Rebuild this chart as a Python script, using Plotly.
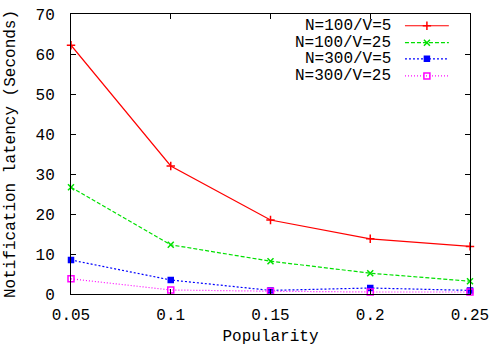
import plotly.graph_objects as go

popularity = [0.05, 0.1, 0.15, 0.2, 0.25]
n100_v5 = [62.2, 32.0, 18.5, 13.8, 11.9]
n100_v25 = [26.7, 12.3, 8.2, 5.2, 3.2]
n300_v5 = [8.5, 3.5, 0.9, 1.5, 0.9]
n300_v25 = [3.8, 1.0, 0.7, 0.5, 0.5]
series_names = ["N=100/V=5", "N=100/V=25", "N=300/V=5", "N=300/V=25"]
x_ticks = [0.05, 0.1, 0.15, 0.2, 0.25]
x_tick_labels = ["0.05", "0.1", "0.15", "0.2", "0.25"]
y_ticks = [0, 10, 20, 30, 40, 50, 60, 70]

FONT = "Liberation Mono"
FS = 16
styles = [
    dict(color="#ff0000", dash="solid", symbol="cross-thin-open", size=6),
    dict(color="#00e000", dash="4px,2px", symbol="x-thin-open", size=6),
    dict(color="#0000ff", dash="2px,2px", symbol="square", size=5),
    dict(color="#ff00ff", dash="1px,2px", symbol="square-open", size=6),
]
data = [n100_v5, n100_v25, n300_v5, n300_v25]

fig = go.Figure()
for name, ys, st in zip(series_names, data, styles):
    fig.add_trace(go.Scatter(
        x=popularity, y=ys, mode="lines+markers", name=name,
        line=dict(color=st["color"], width=1.2, dash=st["dash"]),
        marker=dict(symbol=st["symbol"], size=st["size"], color=st["color"],
                    line=dict(color=st["color"], width=1.5)),
        showlegend=False, cliponaxis=False,
    ))

# manual legend (text right-aligned, sample to the right)
leg_rows = [0.958, 0.8975, 0.840, 0.779]
for name, st, ry in zip(series_names, styles, leg_rows):
    fig.add_trace(go.Scatter(
        x=[0.837, 0.892, 0.947], y=[ry, ry, ry], xaxis="x2", yaxis="y2",
        mode="lines", line=dict(color=st["color"], width=1.2, dash=st["dash"]),
        showlegend=False, hoverinfo="skip",
    ))
    fig.add_trace(go.Scatter(
        x=[0.892], y=[ry], xaxis="x2", yaxis="y2", mode="markers",
        marker=dict(symbol=st["symbol"], size=st["size"], color=st["color"],
                    line=dict(color=st["color"], width=1.5)),
        showlegend=False, hoverinfo="skip",
    ))
    fig.add_annotation(x=0.807, y=ry, xref="paper", yref="paper", text=name,
                       showarrow=False, xanchor="right", yanchor="middle",
                       font=dict(family=FONT, size=FS, color="black"))

axis_common = dict(showgrid=False, zeroline=False, showline=True, linecolor="black",
                   linewidth=1, mirror="ticks", ticks="inside", ticklen=5,
                   tickcolor="black", automargin=False,
                   tickfont=dict(family=FONT, size=FS, color="black"))
fig.update_layout(
    width=495, height=346,
    margin=dict(l=71, r=25, t=14, b=52),
    plot_bgcolor="white", paper_bgcolor="white",
    xaxis=dict(range=[0.05, 0.25], tickvals=x_ticks, ticktext=x_tick_labels,
               ticklabelstandoff=6,
               title=dict(text="Popularity", font=dict(family=FONT, size=FS, color="black")),
               **axis_common),
    yaxis=dict(range=[0, 70], tickvals=y_ticks, ticklabelstandoff=12,
               title=dict(text="Notification latency (Seconds)", font=dict(family=FONT, size=FS, color="black")),
               **axis_common),
    xaxis2=dict(overlaying="x", range=[0, 1], visible=False),
    yaxis2=dict(overlaying="y", range=[0, 1], visible=False),
    showlegend=False,
)
fig.write_html("out.html", config={"displayModeBar": False},
               post_script="document.body.style.margin='0';document.body.style.overflow='hidden';")
